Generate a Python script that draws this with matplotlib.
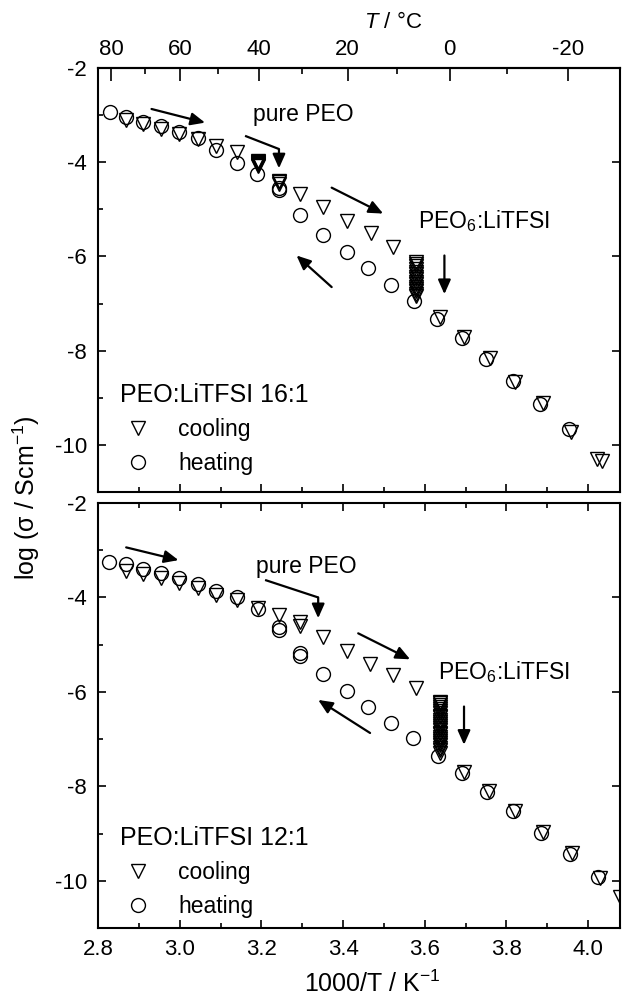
import matplotlib
matplotlib.use("Agg")
import matplotlib.pyplot as plt
from matplotlib.ticker import MultipleLocator, FixedLocator

plt.rcParams['font.family'] = ['Liberation Sans', 'DejaVu Sans']
plt.rcParams['mathtext.fontset'] = 'custom'
plt.rcParams['mathtext.rm'] = 'Liberation Sans'
plt.rcParams['mathtext.it'] = 'Liberation Sans:italic'
plt.rcParams['mathtext.default'] = 'rm'

# ---------------- data: PEO:LiTFSI 16:1 (top panel) ----------------
cool16_x = [2.869, 2.911, 2.953, 2.998, 3.044, 3.090, 3.140,
            3.191, 3.191, 3.191, 3.191, 3.191, 3.191,
            3.243, 3.243, 3.243,
            3.294, 3.350, 3.409, 3.468, 3.521,
            3.578, 3.578, 3.578, 3.578, 3.578, 3.578, 3.578, 3.578,
            3.578, 3.578, 3.578, 3.578, 3.578, 3.578, 3.578,
            3.637, 3.696, 3.760, 3.821, 3.890, 3.957, 4.022, 4.034]
cool16_y = [-3.10, -3.19, -3.29, -3.40, -3.51, -3.66, -3.78,
            -3.97, -3.99, -4.01, -4.04, -4.06, -4.08,
            -4.40, -4.43, -4.47,
            -4.67, -4.96, -5.24, -5.51, -5.81,
            -6.12, -6.16, -6.21, -6.26, -6.32, -6.37, -6.43, -6.48,
            -6.54, -6.59, -6.64, -6.69, -6.74, -6.79, -6.84,
            -7.28, -7.72, -8.16, -8.66, -9.11, -9.72, -10.31, -10.35]
heat16_x = [2.829, 2.869, 2.911, 2.953, 2.998, 3.044, 3.090, 3.140, 3.190,
            3.243, 3.243, 3.294, 3.350, 3.409, 3.462, 3.517, 3.574, 3.629,
            3.690, 3.751, 3.815, 3.882, 3.953]
heat16_y = [-2.94, -3.04, -3.14, -3.24, -3.36, -3.48, -3.75, -4.02, -4.25,
            -4.55, -4.60, -5.13, -5.55, -5.91, -6.24, -6.61, -6.95, -7.32,
            -7.74, -8.17, -8.64, -9.13, -9.66]

# ---------------- data: PEO:LiTFSI 12:1 (bottom panel) ----------------
cool12_x = [2.869, 2.911, 2.953, 2.998, 3.044, 3.090, 3.140, 3.191, 3.243,
            3.294, 3.294, 3.350, 3.409, 3.466, 3.521, 3.578,
            3.637, 3.637, 3.637, 3.637, 3.637, 3.637, 3.637, 3.637, 3.637,
            3.637, 3.637, 3.637, 3.637, 3.637, 3.637, 3.637, 3.637, 3.637,
            3.637, 3.637, 3.637, 3.637, 3.637, 3.637, 3.637,
            3.696, 3.758, 3.821, 3.890, 3.960, 4.029, 4.078]
cool12_y = [-3.45, -3.51, -3.59, -3.69, -3.80, -3.94, -4.05, -4.23, -4.37,
            -4.52, -4.61, -4.84, -5.14, -5.40, -5.65, -5.91,
            -6.21, -6.24, -6.28, -6.32, -6.36, -6.41, -6.45, -6.50, -6.54,
            -6.59, -6.63, -6.68, -6.72, -6.77, -6.81, -6.86, -6.90, -6.95,
            -6.99, -7.04, -7.08, -7.13, -7.18, -7.23, -7.29,
            -7.70, -8.10, -8.52, -8.97, -9.42, -9.95, -10.35]
heat12_x = [2.828, 2.869, 2.911, 2.953, 2.998, 3.044, 3.090, 3.140, 3.191,
            3.243, 3.243, 3.294, 3.294, 3.350, 3.409, 3.462, 3.517, 3.572,
            3.633, 3.690, 3.752, 3.815, 3.885, 3.955, 4.025]
heat12_y = [-3.24, -3.30, -3.39, -3.48, -3.59, -3.71, -3.86, -3.98, -4.25,
            -4.62, -4.68, -5.18, -5.23, -5.62, -5.99, -6.32, -6.65, -6.98,
            -7.35, -7.72, -8.12, -8.53, -8.98, -9.43, -9.92]

x_ticks = [2.8, 3.0, 3.2, 3.4, 3.6, 3.8, 4.0]
y_ticks = [-2, -4, -6, -8, -10]
T_ticks = [80, 60, 40, 20, 0, -20]
T_minor = [70, 50, 30, 10, -10, -30]

W, H = 622, 998
fig = plt.figure(figsize=(W / 100, H / 100), dpi=100)
left = 98 / W
width = 522 / W
ax1 = fig.add_axes([left, 1 - 492 / H, width, 424 / H])
ax2 = fig.add_axes([left, 1 - 928 / H, width, 425 / H])

XMAX = 2.8 + 522 / 408.5
FS_TICK = 16
FS_ANN = 16.5

mk = dict(linestyle='none', mfc='none', mec='black', ms=10, mew=1.0)

def style(ax, bottom_labels):
    ax.set_xlim(2.8, XMAX)
    ax.set_ylim(-11, -2)
    for s in ax.spines.values():
        s.set_linewidth(1.5)
    ax.xaxis.set_major_locator(FixedLocator(x_ticks))
    ax.xaxis.set_minor_locator(MultipleLocator(0.1))
    ax.yaxis.set_major_locator(FixedLocator(y_ticks))
    ax.yaxis.set_minor_locator(MultipleLocator(1))
    ax.tick_params(which='both', direction='in', width=1.2, labelsize=FS_TICK)
    ax.tick_params(which='major', length=6, pad=8)
    ax.tick_params(which='minor', length=3.5)
    ax.tick_params(axis='y', which='major', left=True, right=True)
    ax.tick_params(axis='y', which='minor', left=True, right=False)
    ax.tick_params(axis='x', which='both', bottom=True, labelbottom=bottom_labels)
    ax.set_yticklabels([str(v) for v in y_ticks])

style(ax1, False)
style(ax2, True)
ax1.tick_params(axis='x', which='both', top=False)
ax2.tick_params(axis='x', which='both', top=True)
ax2.set_xticklabels(['2.8', '3.0', '3.2', '3.4', '3.6', '3.8', '4.0'])

# top temperature axis
sec = ax1.secondary_xaxis('top', functions=(lambda x: 1000.0 / x - 273.15,
                                             lambda t: 1000.0 / (t + 273.15)))
sec.xaxis.set_major_locator(FixedLocator(T_ticks))
sec.xaxis.set_minor_locator(FixedLocator(T_minor))
sec.set_xticklabels([str(v) for v in T_ticks])
sec.tick_params(which='both', direction='in', width=1.2, labelsize=FS_TICK)
sec.tick_params(which='major', length=9, pad=6)
sec.tick_params(which='minor', length=4.5)
sec.spines['top'].set_linewidth(1.5)
fig.text(393 / W, 1 - 23 / H, r'$\mathit{T}$ / °C', ha='center', va='center', fontsize=FS_TICK)

# data
for ax, cx, cy, hx, hy in [(ax1, cool16_x, cool16_y, heat16_x, heat16_y),
                           (ax2, cool12_x, cool12_y, heat12_x, heat12_y)]:
    ax.plot(cx, cy, marker='v', label='cooling', **mk)
    ax.plot(hx, hy, marker='o', label='heating', **mk)

leg_kw = dict(frameon=False, fontsize=FS_ANN, numpoints=1, handlelength=1.6,
              handletextpad=0.95, labelspacing=0.47, borderaxespad=0,
              alignment='left', title_fontsize=18)
leg1 = ax1.legend(title='PEO:LiTFSI 16:1', loc='upper left',
                  bbox_to_anchor=(0.024, 0.278), **leg_kw)
leg2 = ax2.legend(title='PEO:LiTFSI 12:1', loc='upper left',
                  bbox_to_anchor=(0.024, 0.262), **leg_kw)
for lg in (leg1, leg2):
    lg._legend_box.sep = 8

# annotations
AP = dict(arrowstyle='-|>,head_length=0.45,head_width=0.2', color='black',
          lw=1.6, mutation_scale=19, shrinkA=0, shrinkB=0)

def arrow(ax, tail, head):
    ax.annotate('', xy=head, xytext=tail, arrowprops=AP)

def bent(ax, p1, p2, p3):
    ax.plot([p1[0], p2[0]], [p1[1], p2[1]], color='black', lw=1.6, solid_capstyle='butt')
    arrow(ax, p2, p3)

# top panel
arrow(ax1, (2.931, -2.87), (3.062, -3.16))
ax1.text(3.180, -2.99, 'pure PEO', fontsize=FS_ANN, va='center', ha='left')
bent(ax1, (3.160, -3.44), (3.243, -3.72), (3.243, -4.13))
arrow(ax1, (3.372, -4.54), (3.498, -5.09))
ax1.text(3.584, -5.25, 'PEO$_6$:LiTFSI', fontsize=FS_ANN, va='center', ha='left')
arrow(ax1, (3.648, -5.98), (3.648, -6.80))
arrow(ax1, (3.372, -6.65), (3.286, -5.98))

# bottom panel
arrow(ax2, (2.869, -2.94), (2.997, -3.21))
ax2.text(3.188, -3.35, 'pure PEO', fontsize=FS_ANN, va='center', ha='left')
bent(ax2, (3.209, -3.63), (3.339, -4.00), (3.339, -4.44))
arrow(ax2, (3.437, -4.76), (3.564, -5.31))
ax2.text(3.633, -5.57, 'PEO$_6$:LiTFSI', fontsize=FS_ANN, va='center', ha='left')
arrow(ax2, (3.696, -6.31), (3.696, -7.12))
arrow(ax2, (3.466, -6.87), (3.339, -6.17))

# axis labels
fig.text(372 / W, 1 - 984 / H, '1000/T / K$^{-1}$', ha='center', va='center', fontsize=18)
fig.text(26 / W, 1 - 498 / H, r'log ($\sigma$ / Scm$^{-1}$)', ha='center', va='center',
         rotation=90, fontsize=18)

fig.savefig('out.png', dpi=100)
